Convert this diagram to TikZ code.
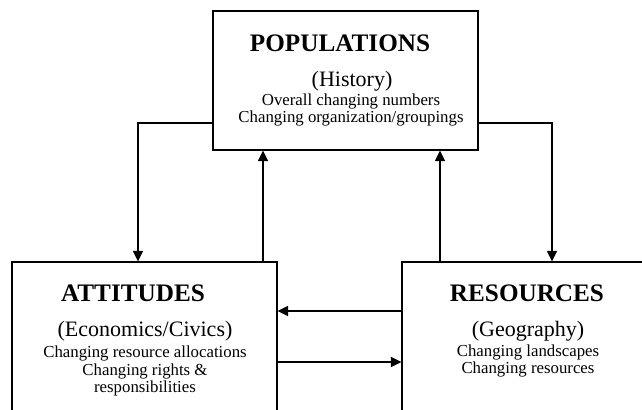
\documentclass[tikz,border=0pt]{standalone}
\usepackage{fontspec}
\setmainfont{Liberation Serif}
\usetikzlibrary{arrows.meta}

\begin{document}
\begin{tikzpicture}[x=0.75pt,y=-0.75pt,
    box/.style={draw,line width=0.8pt,minimum width=198.75pt},
    title/.style={inner sep=0pt,font=\fontsize{18.9}{22}\selectfont\bfseries},
    field/.style={inner sep=0pt,font=\fontsize{16.5}{19}\selectfont},
    detail/.style={inner sep=0pt,align=center,font=\fontsize{12.6}{13.2}\selectfont},
    flow/.style={line width=1.2pt,-{Triangle[length=8pt,width=7.5pt]}}]
    \useasboundingbox (0,0) rectangle (642,410);
    % the three boxes
    \node[box,minimum height=104.25pt] (popbox) at (345.5,80.5) {};
    \node[box,minimum height=126pt] (attbox) at (144.5,346) {};
    \node[box,minimum height=126pt] (resbox) at (534.5,346) {};

    \node[title] (poptitle) at (340,43) {POPULATIONS};
    \node[field] (popfield) at (352,81) {(History)};
    \node[detail] (popdetail) at (351,110) {Overall changing numbers\\Changing organization/groupings};

    \node[title] (atttitle) at (133,293) {ATTITUDES};
    \node[field] (attfield) at (145,331) {(Economics/Civics)};
    \node[detail] (attdetail) at (145,371) {Changing resource allocations\\Changing rights \&\\responsibilities};

    \node[title] (restitle) at (527,293) {RESOURCES};
    \node[field] (resfield) at (528,331) {(Geography)};
    \node[detail] (resdetail) at (528,361) {Changing landscapes\\Changing resources};

    % connectors
    \coordinate (downL) at (138,123);
    \coordinate (downR) at (552,123);
    \coordinate (upL) at (263,0);
    \coordinate (upR) at (440,0);
    \coordinate (toatt) at (0,311);
    \coordinate (tores) at (0,362);
    \draw[flow] (popbox.west |- downL) -| (attbox.north -| downL);
    \draw[flow] (popbox.east |- downR) -| (resbox.north -| downR);
    \draw[flow] (attbox.north -| upL) -- (popbox.south -| upL);
    \draw[flow] (resbox.north -| upR) -- (popbox.south -| upR);
    \draw[flow] (resbox.west |- toatt) -- (attbox.east |- toatt);
    \draw[flow] (attbox.east |- tores) -- (resbox.west |- tores);
\end{tikzpicture}
\end{document}
